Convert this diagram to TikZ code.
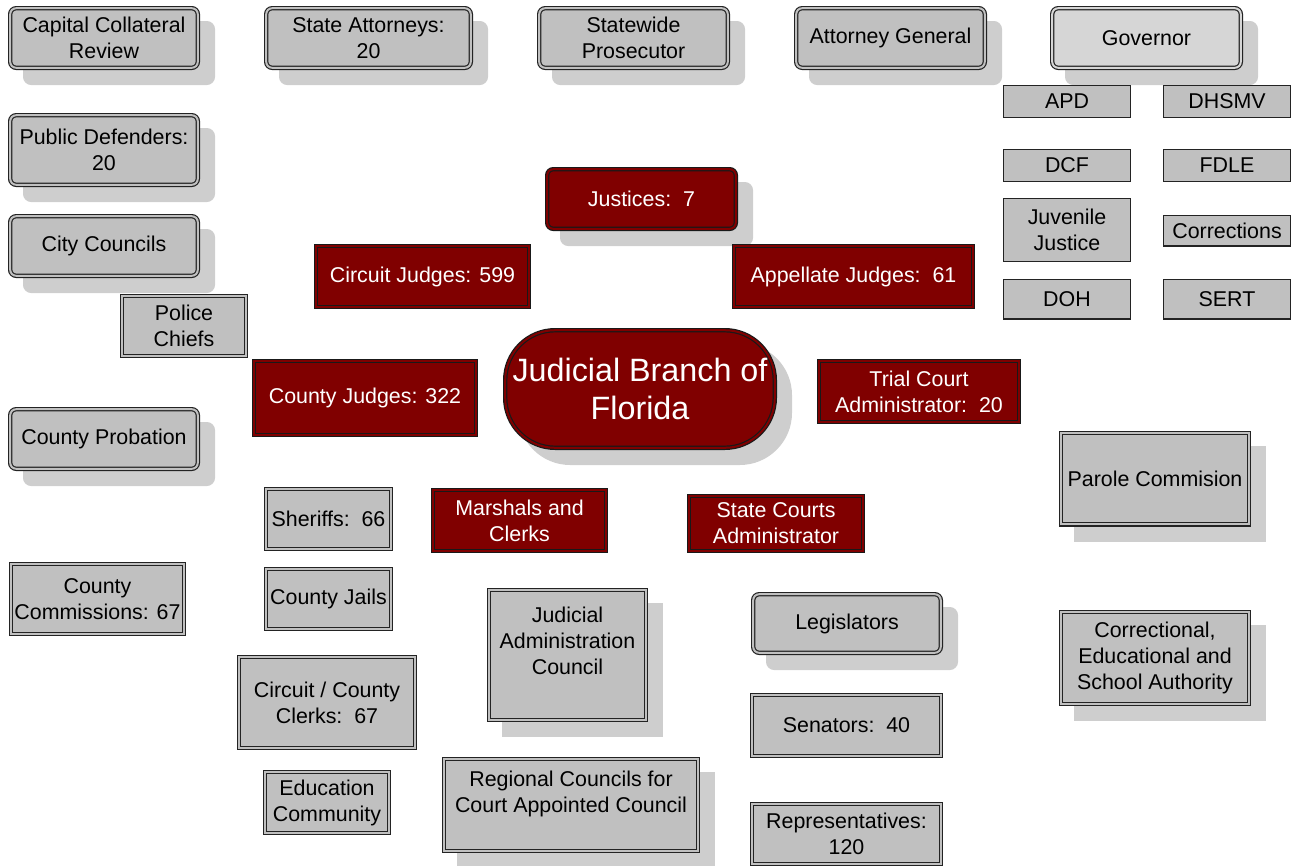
\documentclass[tikz,border=0pt]{standalone}
\usepackage{fontspec}
\setmainfont{Liberation Sans}
\usetikzlibrary{shadows}
\definecolor{boxgray}{RGB}{192,192,192}
\definecolor{shgray}{RGB}{206,206,206}
\definecolor{govgray}{RGB}{214,214,214}
\definecolor{jred}{RGB}{128,0,0}
\definecolor{edgec}{RGB}{35,35,35}
\tikzset{
  base/.style={inner sep=0pt, align=center, font=\fontsize{21.4}{26}\selectfont},
  sz/.style 2 args={minimum width={#1pt-4.4pt}, minimum height={#2pt-4.4pt}},
  szs/.style 2 args={minimum width={#1pt-1.3pt}, minimum height={#2pt-1.3pt}},
  dbl/.style={base, draw=edgec, line width=1.2pt, double distance=2pt},
  gbox/.style={dbl, double=boxgray, fill=boxgray, text=black},
  rbox/.style={dbl, draw=black!90, double=jred, fill=jred, text=white},
  rnd/.style={rounded corners=6pt},
  shad/.style={general shadow={shadow xshift=15pt, shadow yshift=-15pt, fill=shgray, draw=shgray, line width=4.4pt}},
  sbox/.style={base, draw=edgec, line width=1.3pt, fill=boxgray},
}
\begin{document}
\begin{tikzpicture}[x=1pt,y=-1pt]
\useasboundingbox (0,0) rectangle (1292,865);
% top row
\node[gbox,rnd,shad,sz={192}{64}] (cap) at (104,38) {Capital Collateral\\Review};
\node[gbox,rnd,shad,sz={209}{64}] (sa) at (368.5,38) {State Attorneys:\\20};
\node[gbox,rnd,shad,sz={193}{64}] (swp) at (633.5,38) {Statewide\\Prosecutor};
\node[gbox,rnd,shad,sz={193}{64}] (ag) at (890.5,38) {Attorney General};
\node[gbox,rnd,shad,sz={193}{64},fill=govgray,double=govgray] (gov) at (1146.5,38) {Governor};
% left column
\node[gbox,rnd,shad,sz={192}{74}] (pd) at (104,150) {Public Defenders:\\20};
\node[gbox,rnd,shad,sz={192}{64}] (cc) at (104,246) {City Councils};
\node[gbox,sz={128}{64}] (pc) at (184,326) {Police\\Chiefs};
\node[gbox,rnd,shad,sz={192}{64}] (cp) at (104,439) {County Probation};
\node[gbox,sz={177}{74}] (com) at (97.5,599) {County\\Commissions: 67};
% lower left
\node[gbox,sz={129}{64}] (sh) at (328.5,519) {Sheriffs:\ \ 66};
\node[gbox,sz={129}{64}] (cj) at (328.5,599) {County Jails};
\node[gbox,sz={180}{95}] (ccc) at (327,702.5) {Circuit / County\\Clerks:\ \ 67};
\node[gbox,sz={128}{65}] (ec) at (327,802.5) {Education\\Community};
\node[gbox,shad,sz={161}{134},text depth=28pt] (jac) at (567.5,655) {Judicial\\Administration\\Council};
\node[gbox,shad,sz={258}{96},text depth=26pt] (rc) at (571,805) {Regional Councils for\\Court Appointed Council};
% legislators
\node[gbox,rnd,shad,sz={192}{63}] (leg) at (847,623.5) {Legislators};
\node[gbox,sz={193}{65}] (sen) at (846.5,725.5) {Senators:\ \ 40};
\node[gbox,sz={193}{64}] (rep) at (846.5,834) {Representatives:\\120};
% right side
\node[gbox,shad,sz={192}{96}] (par) at (1155,478.5) {Parole Commision};
\node[gbox,shad,sz={192}{96}] (ces) at (1155,658) {Correctional,\\Educational and\\School Authority};
% agencies
\node[sbox,szs={128}{33}] (apd) at (1067,101.5) {APD};
\node[sbox,szs={128}{33}] (dhsmv) at (1227,101.5) {DHSMV};
\node[sbox,szs={128}{33}] (dcf) at (1067,165.5) {DCF};
\node[sbox,szs={128}{33}] (fdle) at (1227,165.5) {FDLE};
\node[sbox,szs={128}{64}] (jj) at (1067,230) {Juvenile\\Justice};
\node[sbox,szs={128}{32}] (cor) at (1227,230.5) {Corrections};
\node[sbox,szs={128}{41}] (doh) at (1067,299) {DOH};
\node[sbox,szs={128}{41}] (sert) at (1227,299) {SERT};
% judicial branch
\node[rbox,rnd,shad,sz={193}{64}] (jus) at (641.5,199) {Justices:\ \ 7};
\node[rbox,sz={217}{65}] (cirj) at (422.5,276.5) {Circuit Judges: 599};
\node[rbox,sz={243}{65}] (appj) at (853.5,276.5) {Appellate Judges:\ \ 61};
\node[rbox,rounded corners=50pt,shad,sz={274}{122},font=\fontsize{32.3}{38}\selectfont] (jbf) at (640,389) {Judicial Branch of\\Florida};
\node[rbox,sz={226}{78}] (coj) at (365,398) {County Judges: 322};
\node[rbox,sz={204}{65}] (tca) at (919,391.5) {Trial Court\\Administrator:\ \ 20};
\node[rbox,sz={177}{65}] (mc) at (519.5,520.5) {Marshals and\\Clerks};
\node[rbox,sz={178}{59}] (sca) at (776,523.5) {State Courts\\Administrator};
\end{tikzpicture}
\end{document}
